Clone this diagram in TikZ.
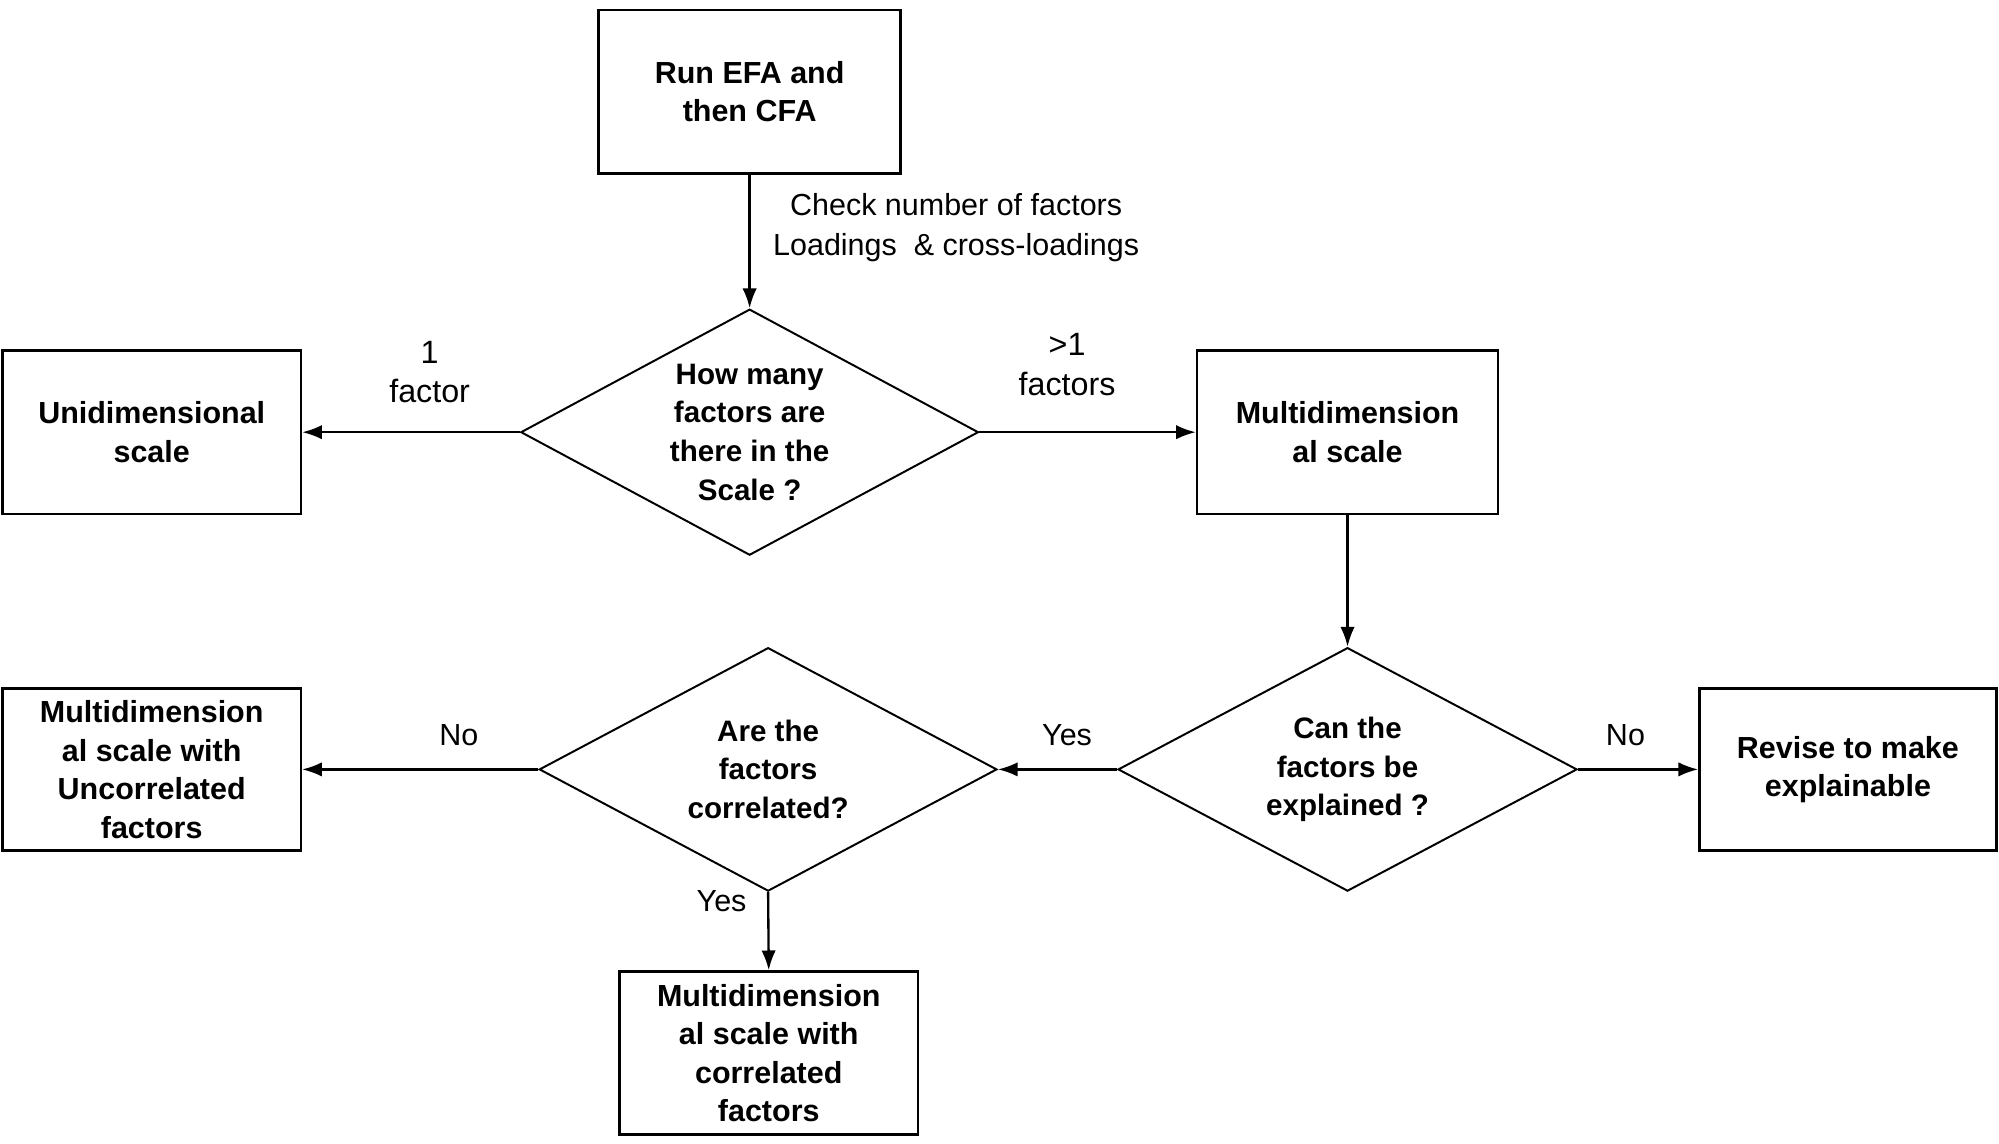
\documentclass[tikz,border=0pt]{standalone}
\usepackage{fontspec}
\setmainfont{Liberation Sans}
\usetikzlibrary{arrows.meta, shapes.geometric}

\begin{document}
\begin{tikzpicture}[x=0.025cm, y=-0.025cm, >={Latex[length=11pt,width=8pt]},
    box/.style={draw, line width=1.4pt, rectangle, inner sep=0pt, align=center,
        font=\bfseries\fontsize{17}{21.5}\selectfont},
    choice/.style={draw, line width=1.1pt, diamond, inner sep=-10pt, align=center,
        font=\bfseries\fontsize{16.5}{21.5}\selectfont},
    lbl/.style={align=center, font=\fontsize{17}{22}\selectfont},
    flow/.style={->, line width=1.3pt}]
    \useasboundingbox (0,0) rectangle (1568,897);
    % boxes
    \node[box, minimum width=237*0.025cm, minimum height=128*0.025cm] (run) at (588,72) {Run EFA and\\then CFA};
    \node[box, minimum width=234*0.025cm, minimum height=128*0.025cm] (uni) at (119,339) {Unidimensional\\scale};
    \node[box, minimum width=236*0.025cm, minimum height=128*0.025cm] (multi) at (1057,339) {Multidimension\\al scale};
    \node[box, minimum width=233*0.025cm, minimum height=127*0.025cm] (revise) at (1449.5,603.5) {Revise to make\\explainable};
    \node[box, minimum width=234*0.025cm, minimum height=127*0.025cm] (uncor) at (119,603.5) {Multidimension\\al scale with\\Uncorrelated\\factors};
    \node[box, minimum width=234*0.025cm, minimum height=128*0.025cm] (cor) at (603,826) {Multidimension\\al scale with\\correlated\\factors};
    % decisions
    \node[choice, minimum width=359*0.025cm, minimum height=193*0.025cm] (howmany) at (588,339) {How many\\factors are\\there in the\\Scale ?};
    \node[choice, minimum width=360*0.025cm, minimum height=191*0.025cm] (explain) at (1057,603.5) {Can the\\factors be\\explained ?};
    \node[choice, minimum width=359*0.025cm, minimum height=191*0.025cm] (correl) at (602.5,603.5) {Are the\\factors\\correlated?};
    % labels on the arrows
    \node[lbl] (check) at (750,178.5) {Check number of factors\\Loadings~ \& cross-loadings};
    \node[lbl, font=\fontsize{18}{22}\selectfont] (one) at (337,292) {1\\factor};
    \node[lbl, font=\fontsize{18}{22}\selectfont] (many) at (837,286) {>1\\factors};
    \node[lbl] (yes1) at (837,577) {Yes};
    \node[lbl] (no1) at (1275,577) {No};
    \node[lbl] (no2) at (360,577) {No};
    \node[lbl] (yes2) at (566,707) {Yes};
    % connectors
    \draw[flow] (run) -- (howmany.north);
    \draw[flow] (howmany.west) -- (uni.east);
    \draw[flow] (howmany.east) -- (multi.west);
    \draw[flow] (multi) -- (explain.north);
    \draw[flow] (explain.west) -- (correl.east);
    \draw[flow] (explain.east) -- (revise.west);
    \draw[flow] (correl.west) -- (uncor.east);
    \draw[flow] (correl.south) -- (cor.north);
\end{tikzpicture}
\end{document}
